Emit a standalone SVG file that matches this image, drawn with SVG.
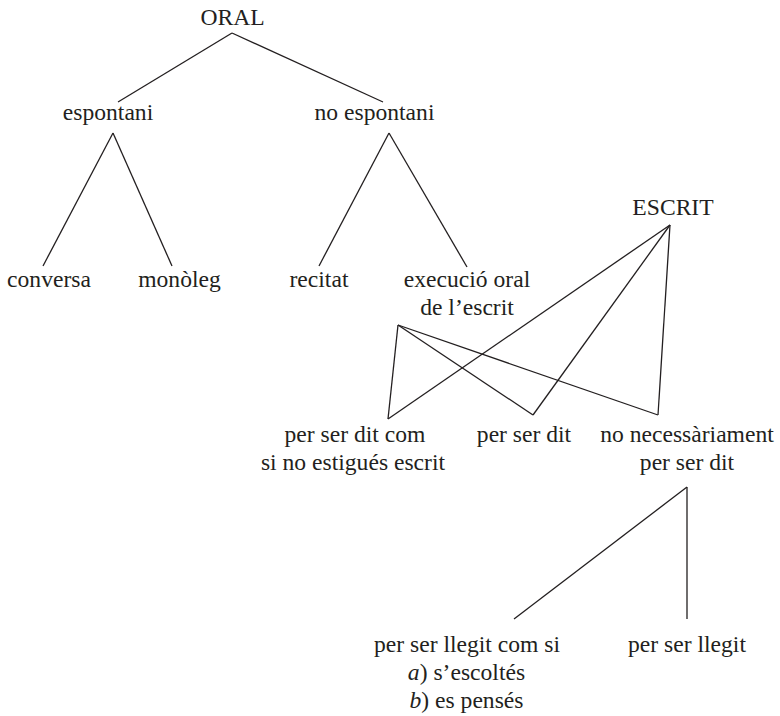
<svg xmlns="http://www.w3.org/2000/svg" width="780" height="716" viewBox="0 0 780 716">
<style>
text{font-size:23.6px;fill:#231f20;text-anchor:middle}
.c line{stroke:#231f20;stroke-width:1.3;fill:none}
</style>
<rect width="780" height="716" fill="#fff"/>
<g class="c" id="connectors">
<line x1="232" y1="33" x2="118" y2="102"/>
<line x1="232" y1="33" x2="383" y2="102"/>
<line x1="113" y1="133" x2="43" y2="266"/>
<line x1="113" y1="133" x2="172" y2="266"/>
<line x1="389" y1="133" x2="319" y2="266"/>
<line x1="389" y1="133" x2="467" y2="267"/>
<line x1="670" y1="225" x2="388" y2="419"/>
<line x1="670" y1="225" x2="533" y2="415"/>
<line x1="670" y1="225" x2="658" y2="415"/>
<line x1="398" y1="325" x2="388" y2="419"/>
<line x1="398" y1="325" x2="533" y2="415"/>
<line x1="398" y1="325" x2="658" y2="415"/>
<line x1="687" y1="487" x2="514" y2="619"/>
<line x1="687" y1="487" x2="687" y2="619"/>
</g>
<g font-family="Liberation Serif, DejaVu Serif, serif">
<g id="oral"><text x="232.5" y="25">ORAL</text></g>
<g id="espontani"><text x="108" y="120">espontani</text></g>
<g id="no-espontani"><text x="374.5" y="120">no espontani</text></g>
<g id="conversa"><text x="49" y="287">conversa</text></g>
<g id="monoleg"><text x="179.5" y="287">monòleg</text></g>
<g id="recitat"><text x="319" y="287">recitat</text></g>
<g id="execucio"><text x="467" y="287">execució oral</text><text x="467" y="315">de l’escrit</text></g>
<g id="escrit"><text x="673" y="215">ESCRIT</text></g>
<g id="per-ser-dit-com"><text x="355" y="442">per ser dit com</text><text x="353" y="470">si no estigués escrit</text></g>
<g id="per-ser-dit"><text x="524" y="442">per ser dit</text></g>
<g id="no-necessariament"><text x="687" y="442">no necessàriament</text><text x="687" y="470">per ser dit</text></g>
<g id="per-ser-llegit-com-si"><text x="467" y="652">per ser llegit com si</text><text x="466.5" y="680"><tspan font-style="italic">a</tspan>) s’escoltés</text><text x="466.5" y="708"><tspan font-style="italic">b</tspan>) es pensés</text></g>
<g id="per-ser-llegit"><text x="687" y="652">per ser llegit</text></g>
</g>
</svg>
